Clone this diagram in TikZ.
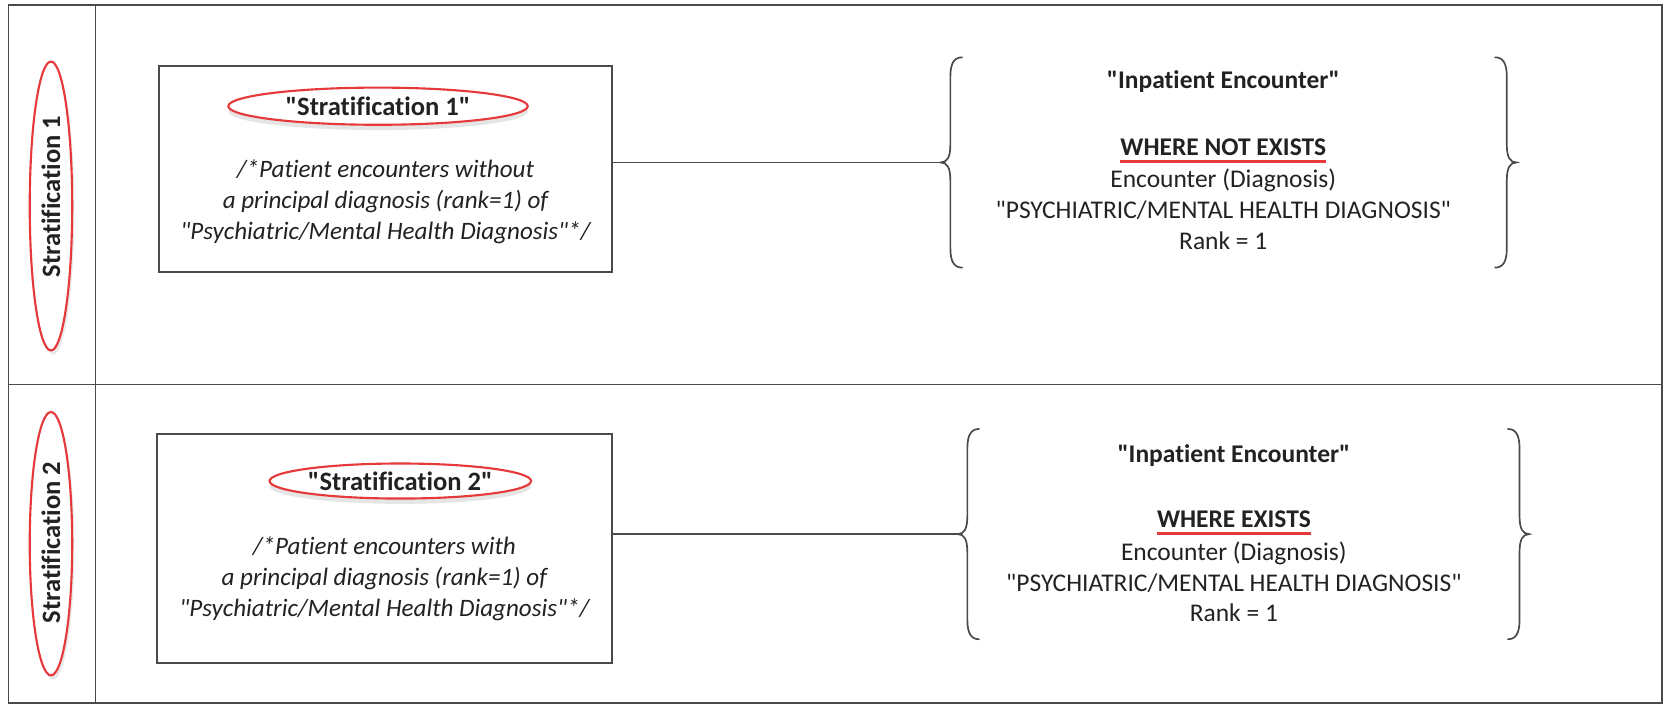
\documentclass[tikz,border=0pt]{standalone}
\usepackage{fontspec}
\setmainfont{Carlito}[Ligatures={TeXOff,NoCommon}]
\usetikzlibrary{shapes.geometric,shadows}
\definecolor{ink}{HTML}{222222}
\definecolor{rim}{HTML}{4A4A4A}
\definecolor{mark}{HTML}{E5393B}
\newcommand{\bh}{99}
\tikzset{
  frame/.style={draw=rim, line width=0.8pt},
  lane/.style={rotate=90, font=\bfseries\fontsize{12.5}{15}\selectfont, text=ink, inner sep=0pt},
  laneoval/.style={ellipse, draw=mark, line width=1pt, fill=white, inner sep=0pt,
    drop shadow={shadow xshift=1pt, shadow yshift=-2pt, opacity=0.18}},
  box/.style={draw=rim, line width=0.9pt, fill=white, inner sep=0pt},
  titleoval/.style={ellipse, draw=mark, line width=1pt, fill=white, inner sep=0pt,
    font=\bfseries\fontsize{12.5}{15}\selectfont, text=ink,
    drop shadow={shadow xshift=0pt, shadow yshift=-2.5pt, opacity=0.2}},
  desc/.style={align=center, font=\itshape\fontsize{11.8}{14.8}\selectfont, text=ink, inner sep=0pt},
  head/.style={font=\bfseries\fontsize{12}{14}\selectfont, text=ink, inner sep=0pt},
  cond/.style={font=\bfseries\fontsize{12}{14}\selectfont, text=ink, inner sep=0pt},
  body/.style={align=center, font=\fontsize{12}{14.5}\selectfont, text=ink, inner sep=0pt},
  wire/.style={draw=rim, line width=0.8pt},
  bracket/.style={draw=rim, line width=0.8pt, line cap=round},
  underscore/.style={draw=mark, line width=1.4pt},
  lbrace/.pic={
    \draw[bracket] (20,-\bh) .. controls (13,-\bh) and (9,-\bh+5) .. (9,-\bh+18)
      -- (9,-17) .. controls (9,-5) and (6,0) .. (0,0)
      .. controls (6,0) and (9,5) .. (9,17)
      -- (9,\bh-18) .. controls (9,\bh-5) and (13,\bh) .. (20,\bh);
  },
}
\begin{document}
\begin{tikzpicture}[x=0.5pt, y=-0.5pt]
\useasboundingbox (0,0) rectangle (1568,664);

% table grid
\draw[frame] (8,5) rectangle (1565,662);
\draw[frame] (90,5) -- (90,662);
\draw[frame] (8,362) -- (1565,362);

% ---- row 1 ----
\node[laneoval, minimum width=20pt, minimum height=136pt] (oval1) at (48,194) {};
\node[lane] (lbl1) at (48,185) {Stratification 1};

\node[box, minimum width=213pt, minimum height=97pt] (box1) at (363,159) {};
\node[titleoval, minimum width=141pt, minimum height=17.5pt] (title1) at (356,100) {"Stratification 1"};
\node[desc] (desc1) at (363,190) {/*Patient encounters without\\a principal diagnosis (rank=1) of\\"Psychiatric/Mental Health Diagnosis"*/};

\coordinate (tipA1) at (886,153);
\coordinate (tipB1) at (1428,153);
\pic at (tipA1) {lbrace};
\pic[xscale=-1] at (tipB1) {lbrace};
\draw[wire] (tipA1 -| box1.east) -- (tipA1);

\node[head] (head1) at (1152,77) {"Inpatient Encounter"};
\node[cond] (cond1) at (1152,139) {WHERE NOT EXISTS};
\draw[underscore] ([yshift=-2.5pt]cond1.south west) -- ([yshift=-2.5pt]cond1.south east);
\node[body] (body1) at (1152,197) {Encounter (Diagnosis)\\"PSYCHIATRIC/MENTAL HEALTH DIAGNOSIS"\\Rank = 1};

% ---- row 2 ----
\node[laneoval, minimum width=20pt, minimum height=124pt] (oval2) at (48,512) {};
\node[lane] (lbl2) at (48,511) {Stratification 2};

\node[box, minimum width=214pt, minimum height=107.5pt] (box2) at (362,516.5) {};
\node[titleoval, minimum width=112.5pt, minimum height=16.5pt] (title2) at (377,453) {"Stratification 2"};
\node[desc] (desc2) at (362,545) {/*Patient encounters with\\a principal diagnosis (rank=1) of\\"Psychiatric/Mental Health Diagnosis"*/};

\coordinate (tipA2) at (902,503);
\coordinate (tipB2) at (1440,503);
\pic at (tipA2) {lbrace};
\pic[xscale=-1] at (tipB2) {lbrace};
\draw[wire] (tipA2 -| box2.east) -- (tipA2);

\node[head] (head2) at (1162,429) {"Inpatient Encounter"};
\node[cond] (cond2) at (1162,489) {WHERE EXISTS};
\draw[underscore] ([yshift=-2.5pt]cond2.south west) -- ([yshift=-2.5pt]cond2.south east);
\node[body] (body2) at (1162,548) {Encounter (Diagnosis)\\"PSYCHIATRIC/MENTAL HEALTH DIAGNOSIS"\\Rank = 1};
\end{tikzpicture}
\end{document}
